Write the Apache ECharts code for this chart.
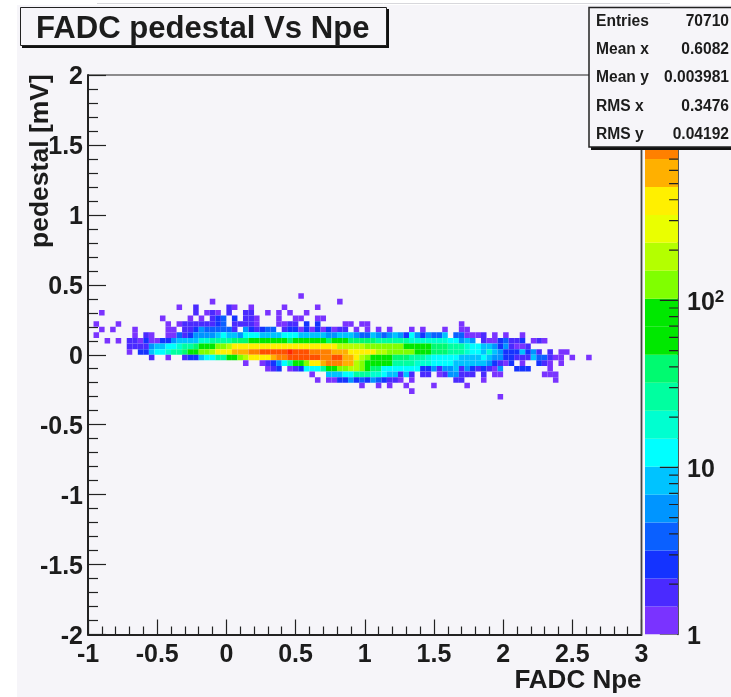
<!DOCTYPE html>
<html><head><meta charset="utf-8">
<style>html,body{margin:0;padding:0;background:#fff}#c{width:731px;height:697px;filter:blur(0.45px)}</style>
<script src="https://cdn.jsdelivr.net/npm/echarts@6/dist/echarts.min.js"></script></head>
<body><div id="c"></div>
<script>
const titleText = 'FADC pedestal Vs Npe';
const xName = 'FADC Npe';
const yName = 'pedestal [mV]';
const statNames = ['Entries', 'Mean x', 'Mean y', 'RMS x', 'RMS y'];
const statValues = ['70710', '0.6082', '0.003981', '0.3476', '0.04192'];
const palette = ['#7a33ff','#4a2aff','#1433ff','#0a60ff','#0095ff','#00c3ff','#00ffff','#00ffd0','#00ffa0','#00fa70',
                 '#00e800','#00e800','#80ff00','#b4ff00','#eaff00','#fff000','#ffb000','#ff8000','#ff5000','#ff2800'];
const zMax = 2232;
const levelCounts = [1,2,3,4,6,8,12,18,26,38,58,85,125,180,400,580,850,1250,1850,1850];
const zMajor = [1,10,100,1000];
const zMinor = [2,3,4,5,6,7,8,9,20,30,40,50,60,70,80,90,200,300,400,500,600,700,800,900,2000];
// each segment: [first x bin, colour level of that bin, of the next bin, ...]
const row_p10 = [[38,0]];
const row_p9 = [[22,0],[45,0]];
const row_p8 = [[16,0],[19,1],[25,1,0],[29,0],[35,0],[41,0]];
const row_p7 = [[2,0],[19,1],[21,0,1,0],[25,1],[28,1,1],[32,0],[34,0],[36,0],[39,0]];
const row_p6 = [[13,0],[18,0],[20,0],[22,1,2,3],[26,2],[28,1,1,0],[34,0],[37,0,0],[41,0,0]];
const row_p5 = [[1,0],[5,0],[14,0],[16,0,1,1,1,1,1,1,2,3],[26,1,1,1,1,0],[34,0,0,1,1],[39,2],[41,2],[46,0,0],[49,0,0],[67,0]];
const row_p4 = [[2,0],[4,0],[8,0],[14,0,0],[17,1,1,2,4,3,3,3,3,3,1],[28,4,2,1,2,3,3],[35,1,2,2,0,2,0,2,0,2,0,1,1],[48,0],[50,0],[52,0],[54,0],[58,0],[60,0],[64,0],[67,0,0]];
const row_p3 = [[1,0],[8,0],[10,1,0],[14,0,0,3,1,2,4,4,4,4,5,6,5,5,4,6,6,6,5,5,5,5,6,6,6,5,5,5,5,5,4,4,5,5,5,4,3,3,5,4,3,4,5,4,2,6,4,2,4,3,3,5],[66,3,3,0,0,0,1],[73,0],[75,0],[78,0]];
const row_p2 = [[3,0],[5,0],[7,1,1,0,2,0,0,2,2,4,5,5,5,5,7,7,8,8,8,8,9,9,9,10,10,10,10,10,10,10,9,10,10,10,10,10,10,9,10,10,10,9,9,9,9,9,8,8,8,8,8,8,7,7,7,7,7,7,7,6,6,4,5,4],[71,1,0,0,2,3,1,1,2],[80,0,1,0]];
const row_p1 = [[7,1,1,1,1,4,5,5,6,6,7,8,8,9,10,10,10,12,12,13,14,14,14,14,14,14,14,14,14,14,14,14,14,14,14,14,14,14,14,13,13,13,13,13,12,12,12,12,12,12,12,11,11,11,11,11,9,9,9,8,8,8,7,6,6,5,5,4,2,4,1,0,0,1]];
const row_p0 = [[7,0],[9,2,2,5,6,6,7,8,8,9,10,11,12,12,13,14,14,14,15,15,15,16,16,17,17,17,17,17,18,17,17,17,16,16,16,16,15,15,15,14,14,14,14,14,13,13,12,12,12,12,12,11,11,11,9,9,9,8,8,8,7,6,6,5,7,5,4,2,2,2,5,2,4,1],[83,1],[85,0,0]];
const row_m1 = [[11,1],[14,0],[17,1,2,2,5,6,6,8,8,10,10,12,13,14,14,14,14,15,16,16,17,17,17,17,17,17,16,16,17,17,15,15,14,13,12,11,11,11,11,9,9,9,8,8,8,7,6,6,6,6,6,5,5,5,5,6,5,4,4,2,2,1,1,1,5,3,3,1,0,0],[87,0],[90,0]];
const row_m2 = [[28,0],[31,0,1,2,4,6,8,10,10,12,14,14,15,16,16,16,15,15,13,12,10,10,10,10,10,8,8,8,8,7,7,7,6,6,6,6,5,5,5,5,5,5,4,2,1,0,2],[78,0],[81,2,1,0],[85,0]];
const row_m3 = [[32,0,1,2],[36,0,1,2,6,6,6,8,10,10,12,12,13,13,12,10,9,9,6,6,6,6,6,6,6,2,2,4,1,4,4,5,1,4,2,1,2,1,0,4],[77,2,2,2],[83,0]];
const row_m4 = [[40,0],[43,5,5,5,6,6,8,8,8,7,7,6,5,5,1,5,1],[60,1,1],[63,0,1,4,4,1,1,1],[71,1],[73,0,0],[82,0,0,0]];
const row_m5 = [[41,0],[43,0,0,2,2,4,2,3,2,4,3,2,1,1,0],[58,0],[66,1,1],[71,0],[84,0]];
const row_m6 = [[49,0],[52,0],[54,0],[57,0],[62,0],[68,0]];
const row_m7 = [[58,0]];
const row_m8 = [[74,0]];
const rows = [[10,row_p10],[9,row_p9],[8,row_p8],[7,row_p7],[6,row_p6],[5,row_p5],[4,row_p4],[3,row_p3],[2,row_p2],[1,row_p1],[0,row_p0],
  [-1,row_m1],[-2,row_m2],[-3,row_m3],[-4,row_m4],[-5,row_m5],[-6,row_m6],[-7,row_m7],[-8,row_m8]];

const binW = 0.04, binH = 0.04, xMin = -1;
const cells = [];
rows.forEach(([j, segs]) => segs.forEach(seg => {
  for (let k = 1; k < seg.length; k++)
    cells.push([xMin + (seg[0] + k - 1) * binW, j * binH, levelCounts[seg[k]]]);
}));
const logStep = Math.log10(zMax) / palette.length;
const colourOf = c => palette[Math.min(palette.length - 1, Math.floor(Math.log10(c) / logStep))];
const bands = palette.map((c, i) => [Math.pow(10, i * logStep), Math.pow(10, (i + 1) * logStep), i]);
const ink = '#1c1c1c', bg = '#f6f5f9', font = '"Liberation Sans", Arial, sans-serif';

const statRowY = [21, 49, 77, 106, 134];
const statGraphics = [];
statNames.forEach((n, i) => {
  statGraphics.push({type:'text', z:103, left:596, top:statRowY[i]-7, style:{text:n, font:'bold 15.6px '+font, fill:ink}});
  statGraphics.push({type:'text', z:103, right:2, top:statRowY[i]-7, style:{text:statValues[i], font:'bold 15.6px '+font, fill:ink, textAlign:'right'}});
});

const chart = echarts.init(document.getElementById('c'), null, {renderer:'canvas'});
chart.setOption({
  animation:false,
  backgroundColor:'#ffffff',
  grid:[
    {left:88, top:75, right:89.5, bottom:62.5, show:false, containLabel:false},
    {left:645, top:75, width:33, bottom:62.5, show:false}
  ],
  xAxis:[
    {type:'value', gridIndex:0, min:-1, max:3, interval:0.5, name:xName, nameLocation:'end', nameGap:0,
     nameTextStyle:{fontWeight:'bold', fontSize:26, fontFamily:font, color:ink, align:'right', verticalAlign:'top', padding:[33,0,0,0]},
     axisLine:{show:true, onZero:false, lineStyle:{color:'#222', width:2}},
     axisTick:{show:true, inside:true, length:15, lineStyle:{color:'#222', width:1.2}},
     minorTick:{show:true, splitNumber:5, length:8, lineStyle:{color:'#222', width:1.2}},
     splitLine:{show:false}, minorSplitLine:{show:false},
     axisLabel:{show:true, margin:8, fontFamily:font, fontSize:25, fontWeight:'bold', color:ink, hideOverlap:false, showMinLabel:true, showMaxLabel:true}},
    {type:'value', gridIndex:1, min:0, max:1, show:false}
  ],
  yAxis:[
    {type:'value', gridIndex:0, min:-2, max:2, interval:0.5, name:'',
     axisLine:{show:true, onZero:false, lineStyle:{color:'#222', width:2}},
     axisTick:{show:true, inside:true, length:18, lineStyle:{color:'#222', width:1.2}},
     minorTick:{show:true, splitNumber:5, length:10, lineStyle:{color:'#222', width:1.2}},
     splitLine:{show:false}, minorSplitLine:{show:false},
     axisLabel:{show:true, margin:5, verticalAlign:'top', lineHeight:5, fontFamily:font, fontSize:25, fontWeight:'bold', color:ink, hideOverlap:false, showMinLabel:true, showMaxLabel:true}},
    {type:'log', logBase:10, gridIndex:1, min:1, max:zMax, position:'right',
     axisLine:{show:true, onZero:false, lineStyle:{color:'#222', width:1.5}},
     axisTick:{show:false}, splitLine:{show:false}, minorTick:{show:false},
     axisLabel:{show:true, margin:9, showMaxLabel:false, hideOverlap:false, padding:[6,0,0,0],
       fontFamily:font, fontSize:25, fontWeight:'bold', color:ink,
       formatter:v => v >= 100 ? '10{sup|' + Math.round(Math.log10(v)) + '}' : String(Math.round(v)),
       rich:{sup:{fontFamily:font, fontSize:17, fontWeight:'bold', color:ink, verticalAlign:'top', padding:[0,0,12,0]}}}}
  ],
  graphic:[
    {type:'rect', z:-10, silent:true, shape:{x:17,y:5,width:714,height:692}, style:{fill:bg}},
    {type:'line', z:-9, silent:true, shape:{x1:97,y1:3.5,x2:670,y2:3.5}, style:{stroke:'#d8d8dc', lineWidth:1}},
    {type:'line', z:5, silent:true, shape:{x1:88,y1:75,x2:641.5,y2:75}, style:{stroke:'#222', lineWidth:1.2}},
    {type:'line', z:5, silent:true, shape:{x1:641.5,y1:75,x2:641.5,y2:634.5}, style:{stroke:'#444', lineWidth:1.8}},
    {type:'text', z:6, silent:true, rotation:Math.PI/2, x:27, y:248, style:{text:yName, font:'bold 26.5px '+font, fill:ink}},
    {type:'rect', z:100, shape:{x:22,y:9,width:367,height:39}, style:{fill:'#111'}},
    {type:'rect', z:101, shape:{x:20.5,y:7.5,width:366,height:38}, style:{fill:bg, stroke:'#222', lineWidth:1}},
    {type:'text', z:102, left:36, top:14, style:{text:titleText, font:'bold 31.1px '+font, fill:ink}},
    {type:'rect', z:100, shape:{x:591,y:10,width:140,height:140}, style:{fill:'#111'}},
    {type:'rect', z:101, shape:{x:589,y:7.5,width:143,height:139.5}, style:{fill:bg, stroke:'#222', lineWidth:1.5}},
    ...statGraphics
  ],
  series:[
    {type:'custom', xAxisIndex:0, yAxisIndex:0, clip:true, data:cells, encode:{x:0,y:1},
     renderItem:(p, api) => {
       const x = api.value(0), y = api.value(1);
       const a = api.coord([x, y + binH]), b = api.coord([x + binW, y]);
       return {type:'rect', shape:{x:a[0], y:a[1], width:b[0]-a[0], height:b[1]-a[1]},
               style:{fill:colourOf(api.value(2))}};
     }},
    {type:'custom', xAxisIndex:1, yAxisIndex:1, clip:true, data:bands, encode:{y:[0,1]},
     renderItem:(p, api) => {
       const a = api.coord([0, api.value(1)]), b = api.coord([1, api.value(0)]);
       return {type:'rect', shape:{x:a[0], y:a[1], width:b[0]-a[0], height:b[1]-a[1]},
               style:{fill:palette[api.value(2)]}};
     }},
    {type:'custom', xAxisIndex:1, yAxisIndex:1, clip:true, z:4, data:zMajor.map(v=>[v,0.45]).concat(zMinor.map(v=>[v,0.73])), encode:{y:0},
     renderItem:(p, api) => {
       const a = api.coord([api.value(1), api.value(0)]), b = api.coord([1, api.value(0)]);
       return {type:'line', shape:{x1:a[0], y1:a[1], x2:b[0], y2:b[1]}, style:{stroke:'#222', lineWidth:1.2}};
     }}
  ]
});
</script></body></html>
